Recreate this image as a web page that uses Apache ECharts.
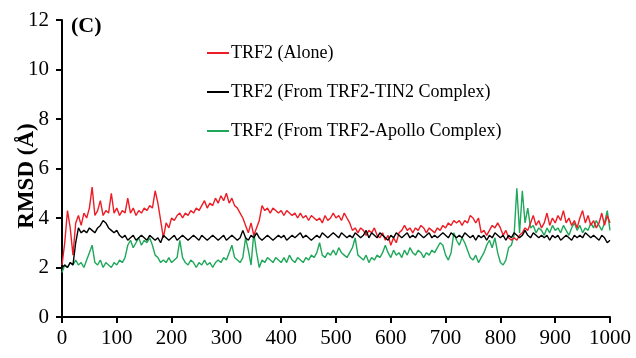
<!DOCTYPE html>
<html><head><meta charset="utf-8">
<script src="https://cdn.jsdelivr.net/npm/echarts@6/dist/echarts.min.js"></script>
<style>html,body{margin:0;padding:0;background:#fff}#c{width:636px;height:358px}</style>
</head><body><div id="c"></div>
<script>
var timeStep = 5;
var seriesNames = ['TRF2 (Alone)', 'TRF2 (From TRF2-TIN2 Complex)', 'TRF2 (From TRF2-Apollo Complex)'];
var yAxisTitle = 'RMSD (Å)';
var panelLabel = '(C)';
var xTicks = [0,100,200,300,400,500,600,700,800,900,1000];
var yTicks = [0,2,4,6,8,10,12];
var alone = [2.1,3.0,4.3,3.6,2.5,3.8,4.1,3.7,4.2,4.0,4.4,5.25,4.1,4.3,4.7,4.1,4.3,4.2,5.0,4.2,
4.4,4.1,4.3,4.2,4.8,4.2,4.4,4.1,4.3,4.2,4.4,4.3,4.5,4.4,5.1,4.6,3.9,3.2,3.8,3.6,
4.0,3.9,4.1,4.2,4.0,4.2,4.1,4.3,4.2,4.4,4.3,4.5,4.7,4.4,4.6,4.5,4.8,4.6,4.9,4.7,
5.0,4.6,4.8,4.5,4.4,4.2,4.0,3.7,3.4,3.8,3.3,3.6,3.9,4.5,4.3,4.4,4.2,4.4,4.3,4.2,
4.3,4.1,4.3,4.2,4.1,4.2,4.0,4.2,4.0,4.1,3.9,4.1,4.0,3.9,4.0,3.8,4.1,3.9,4.0,4.2,
4.0,4.1,3.9,4.2,4.0,3.8,3.5,3.6,3.4,3.6,3.5,3.3,3.5,3.4,3.6,3.3,3.2,3.4,3.1,3.3,
2.9,3.2,3.0,3.4,3.5,3.7,3.5,3.6,3.4,3.6,3.5,3.7,3.6,3.4,3.6,3.5,3.4,3.6,3.5,3.7,
3.6,3.8,3.7,3.9,3.8,3.9,3.7,3.9,3.8,4.1,4.0,3.8,4.0,3.4,3.5,3.3,3.5,3.7,3.6,3.8,
3.6,3.3,3.5,3.2,3.1,3.2,3.1,3.3,3.4,3.6,3.5,3.8,4.1,3.7,3.9,3.6,3.8,4.2,3.7,4.0,
3.8,4.1,3.9,4.3,3.8,4.0,3.7,3.9,3.6,4.0,4.3,3.8,4.1,3.7,3.9,3.6,3.8,4.2,3.7,4.1,3.8];
var tin2 = [2.0,2.1,2.0,2.2,2.1,3.0,3.6,3.4,3.5,3.4,3.6,3.5,3.4,3.6,3.7,3.9,3.8,3.6,3.5,3.4,
3.5,3.3,3.2,3.3,3.1,3.2,3.3,3.1,3.2,3.3,3.2,3.1,3.3,3.2,3.1,3.2,3.0,3.3,3.2,3.1,
3.2,3.3,3.1,3.2,3.3,3.2,3.1,3.2,3.3,3.2,3.1,3.3,3.2,3.1,3.2,3.3,3.2,3.1,3.2,3.3,
3.1,3.2,3.3,3.2,3.1,3.2,3.5,3.2,3.1,3.3,3.2,3.4,3.2,3.1,3.2,3.3,3.2,3.1,3.2,3.3,
3.2,3.3,3.1,3.2,3.3,3.2,3.3,3.4,3.2,3.3,3.2,3.1,3.2,3.3,3.2,3.4,3.3,3.2,3.3,3.4,
3.3,3.2,3.4,3.3,3.2,3.3,3.2,3.4,3.3,3.2,3.3,3.5,3.2,3.4,3.3,3.2,3.4,3.3,3.2,3.1,
3.3,3.2,3.4,3.3,3.2,3.3,3.4,3.2,3.3,3.2,3.4,3.3,3.2,3.3,3.4,3.2,3.3,3.2,3.3,3.4,
3.3,3.2,3.4,3.3,3.2,3.3,3.2,3.4,3.3,3.2,3.3,3.1,3.3,3.2,3.3,3.1,3.3,3.2,3.4,3.3,
3.2,3.3,3.1,3.3,3.2,3.4,3.3,3.2,3.3,3.5,3.3,3.2,3.4,3.3,3.2,3.3,3.2,3.3,3.1,3.3,
3.2,3.3,3.1,3.2,3.3,3.2,3.1,3.3,3.2,3.3,3.2,3.4,3.3,3.2,3.3,3.2,3.1,3.3,3.2,3.0,3.1];
var apollo = [1.8,2.1,2.0,2.2,2.1,2.3,2.1,2.2,2.0,2.3,2.6,2.9,2.2,2.1,2.3,2.0,2.2,2.1,2.0,2.2,
2.1,2.3,2.2,2.4,2.9,3.1,2.8,3.0,3.2,2.9,3.1,3.0,3.2,2.9,2.5,2.4,2.2,2.3,2.2,2.4,
2.2,2.3,2.4,3.1,2.4,2.2,2.1,2.3,2.2,2.0,2.2,2.1,2.3,2.1,2.2,2.0,2.2,2.3,2.2,2.4,
2.3,2.6,2.9,2.4,2.3,2.2,2.4,3.2,2.7,2.1,3.4,2.6,2.0,2.3,2.2,2.4,2.3,2.2,2.4,2.3,
2.2,2.4,2.2,2.5,2.3,2.2,2.4,2.3,2.2,2.4,2.3,2.5,2.4,2.6,3.0,2.5,2.4,2.6,2.5,2.7,
2.5,2.8,2.6,2.5,2.4,2.6,2.8,3.2,2.5,2.4,2.3,2.5,2.2,2.4,2.3,2.5,2.4,2.6,2.9,2.6,
2.4,2.7,2.5,2.6,2.4,2.7,2.5,2.8,2.6,2.5,2.7,2.6,2.4,2.6,2.5,2.7,2.6,2.8,3.0,2.9,
2.5,2.3,2.6,3.4,3.1,2.9,3.2,3.0,2.7,2.4,2.3,2.5,2.2,2.4,2.6,2.9,3.1,2.8,3.2,2.6,
2.2,2.1,2.3,2.8,2.9,3.3,5.2,3.4,5.1,3.8,4.4,3.6,3.7,3.4,3.6,3.5,3.3,3.6,3.4,3.7,
3.5,3.6,3.4,3.7,3.5,3.3,3.6,3.8,3.5,3.7,3.4,3.6,3.5,3.8,3.6,3.9,3.7,3.5,3.8,4.3,3.5];

function pairs(arr){ return arr.map(function(v,i){ return [i*timeStep, v]; }); }
var serif = '"Liberation Serif","DejaVu Serif",serif';
var colors = ['#ee1c25', '#000000', '#1fa85a'];
var chart = echarts.init(document.getElementById('c'), null, {renderer:'canvas'});
chart.setOption({
  animation:false,
  backgroundColor:'#fff',
  color: colors,
  grid:{left:62, right:26, top:20, bottom:41, containLabel:false, outerBoundsMode:'none'},
  graphic:[
    {type:'text', left:71, top:15, style:{text:panelLabel, font:'bold 22px '+serif, fill:'#000'}},
    {type:'text', x:27, y:176, rotation:Math.PI/2,
     style:{text:yAxisTitle, font:'bold 23px '+serif, fill:'#000', align:'center', verticalAlign:'middle'}}
  ],
  legend:{
    orient:'vertical', left:202, top:39, itemGap:21, itemWidth:22, itemHeight:2,
    icon:'rect', data:seriesNames,
    textStyle:{fontFamily:serif, fontSize:18, color:'#000', padding:[0,0,0,-3]}
  },
  xAxis:{
    type:'value', min:0, max:1000, interval:100,
    axisLine:{show:true, onZero:false, lineStyle:{color:'#000', width:2}},
    axisTick:{show:true, inside:false, length:6, lineStyle:{color:'#000', width:2}},
    axisLabel:{fontFamily:serif, fontSize:21, color:'#000', margin:11,
      formatter:function(v){ return xTicks.indexOf(v) >= 0 ? String(v) : ''; }},
    splitLine:{show:false}
  },
  yAxis:{
    type:'value', min:0, max:12, interval:2,
    axisLine:{show:true, lineStyle:{color:'#000', width:2}},
    axisTick:{show:true, inside:false, length:6, lineStyle:{color:'#000', width:2}},
    axisLabel:{fontFamily:serif, fontSize:21, color:'#000', margin:13,
      formatter:function(v){ return yTicks.indexOf(v) >= 0 ? String(v) : ''; }},
    splitLine:{show:false}
  },
  series:[
    {name:seriesNames[0], type:'line', data:pairs(alone), showSymbol:false, lineStyle:{width:1.4}, z:3},
    {name:seriesNames[1], type:'line', data:pairs(tin2), showSymbol:false, lineStyle:{width:1.4}, z:4},
    {name:seriesNames[2], type:'line', data:pairs(apollo), showSymbol:false, lineStyle:{width:1.4}, z:2}
  ]
});
</script></body></html>
